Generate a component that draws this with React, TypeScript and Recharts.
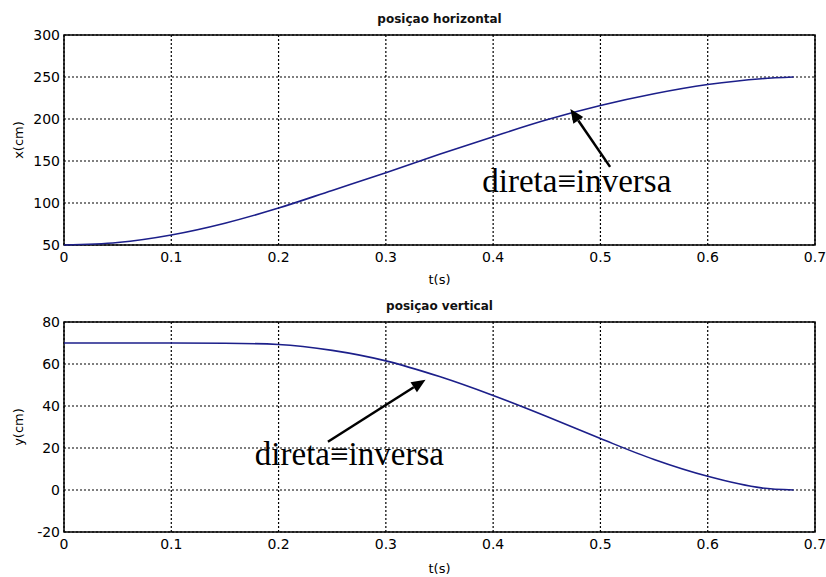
import {
  LineChart,
  Line,
  XAxis,
  YAxis,
  CartesianGrid,
  ReferenceArea,
  ReferenceLine,
  ReferenceDot,
} from "recharts";

// time samples (s)
const tempo = [0, 0.05, 0.1, 0.15, 0.2, 0.25, 0.3, 0.35, 0.4, 0.45, 0.5, 0.55, 0.6, 0.65, 0.68];
// horizontal position x(cm)
const posX = [50, 53, 62, 76, 94, 115, 136, 158, 179, 199, 216, 230, 241, 248, 250];
// vertical position y(cm)
const posY = [70, 70, 70, 69.9, 69.3, 66.5, 61.5, 54, 45, 35, 24.5, 14.5, 6.5, 1, 0];

const tTicks = [0, 0.1, 0.2, 0.3, 0.4, 0.5, 0.6, 0.7];
const xTicks = [50, 100, 150, 200, 250, 300];
const yTicks = [-20, 0, 20, 40, 60, 80];

const LABEL = "direta\u2261inversa";

const dataX = tempo.map((t, i) => ({ t, v: posX[i] }));
const dataY = tempo.map((t, i) => ({ t, v: posY[i] }));

const tickStyle = { fontFamily: "DejaVu Sans", fontSize: 14, fill: "#000" };
const axisLabelStyle = { fontFamily: "DejaVu Sans", fontSize: 13, fill: "#000" };
const LINE_COLOR = "#1c1f8a";

function Arrow(props: any) {
  const { x1, y1, x2, y2 } = props;
  const ang = Math.atan2(y2 - y1, x2 - x1);
  const len = 14;
  const w = 6;
  const bx = x2 - len * Math.cos(ang);
  const by = y2 - len * Math.sin(ang);
  const px = -Math.sin(ang) * w;
  const py = Math.cos(ang) * w;
  return (
    <g>
      <line x1={x1} y1={y1} x2={bx} y2={by} stroke="#000" strokeWidth={2.5} />
      <polygon points={`${x2},${y2} ${bx + px},${by + py} ${bx - px},${by - py}`} fill="#000" />
    </g>
  );
}

function Annotation(props: any) {
  const { cx, cy } = props;
  return (
    <text
      x={cx}
      y={cy}
      textAnchor="middle"
      fontFamily="Liberation Serif, DejaVu Serif, serif"
      fontSize={33}
      fill="#000"
    >
      {LABEL}
    </text>
  );
}

interface PanelProps {
  data: { t: number; v: number }[];
  title: string;
  yLabel: string;
  yDomain: [number, number];
  yTicks: number[];
  height: number;
  top: number;
  axisHeight: number;
  arrow: [{ x: number; y: number }, { x: number; y: number }];
  text: { x: number; y: number };
}

function Panel({ data, title, yLabel, yDomain, yTicks, height, top, axisHeight, arrow, text }: PanelProps) {
  return (
    <div style={{ position: "relative", width: 826, height }}>
      <div
        style={{
          position: "absolute",
          left: 64,
          width: 751,
          top: top - 23,
          textAlign: "center",
          fontFamily: "DejaVu Sans",
          fontWeight: "bold",
          fontSize: 12,
          color: "#111",
        }}
      >
        {title}
      </div>
      <LineChart
        width={826}
        height={height}
        data={data}
        margin={{ top, right: 11, left: 8, bottom: 0 }}
      >
        <CartesianGrid stroke="#000" strokeDasharray="2 2" strokeWidth={1.2} />
        <XAxis
          dataKey="t"
          type="number"
          domain={[0, 0.7]}
          ticks={tTicks}
          tickFormatter={(v) => String(v)}
          tick={tickStyle}
          tickLine={false}
          axisLine={false}
          tickSize={0}
          tickMargin={7}
          height={axisHeight}
          label={{ value: "t(s)", position: "insideBottom", offset: 4, style: axisLabelStyle }}
        />
        <YAxis
          type="number"
          domain={yDomain}
          ticks={yTicks}
          tick={tickStyle}
          tickLine={false}
          axisLine={false}
          tickSize={0}
          tickMargin={4}
          width={56}
          interval={0}
          label={{
            value: yLabel,
            angle: -90,
            position: "insideLeft",
            offset: 10,
            style: { ...axisLabelStyle, textAnchor: "middle" },
          }}
        />
        <ReferenceArea
          x1={0}
          x2={0.7}
          y1={yDomain[0]}
          y2={yDomain[1]}
          fill="none"
          fillOpacity={0}
          stroke="#000"
          strokeWidth={1.5}
        />
        <Line
          type="monotone"
          dataKey="v"
          stroke={LINE_COLOR}
          strokeWidth={1.6}
          dot={false}
          isAnimationActive={false}
        />
        <ReferenceLine segment={arrow} shape={Arrow} />
        <ReferenceDot x={text.x} y={text.y} r={0} shape={Annotation} />
      </LineChart>
    </div>
  );
}

export default function App() {
  return (
    <div style={{ position: "absolute", left: 0, top: 0, width: 826, height: 577, background: "#fff" }}>
      <Panel
        data={dataX}
        title="posiçao horizontal"
        yLabel="x(cm)"
        yDomain={[50, 300]}
        yTicks={xTicks}
        height={288}
        top={35}
        axisHeight={43}
        arrow={[
          { x: 0.509, y: 143 },
          { x: 0.472, y: 212 },
        ]}
        text={{ x: 0.478, y: 113 }}
      />
      <Panel
        data={dataY}
        title="posiçao vertical"
        yLabel="y(cm)"
        yDomain={[-20, 80]}
        yTicks={yTicks}
        height={289}
        top={34}
        axisHeight={45}
        arrow={[
          { x: 0.246, y: 23 },
          { x: 0.337, y: 52.5 },
        ]}
        text={{ x: 0.266, y: 12 }}
      />
    </div>
  );
}
